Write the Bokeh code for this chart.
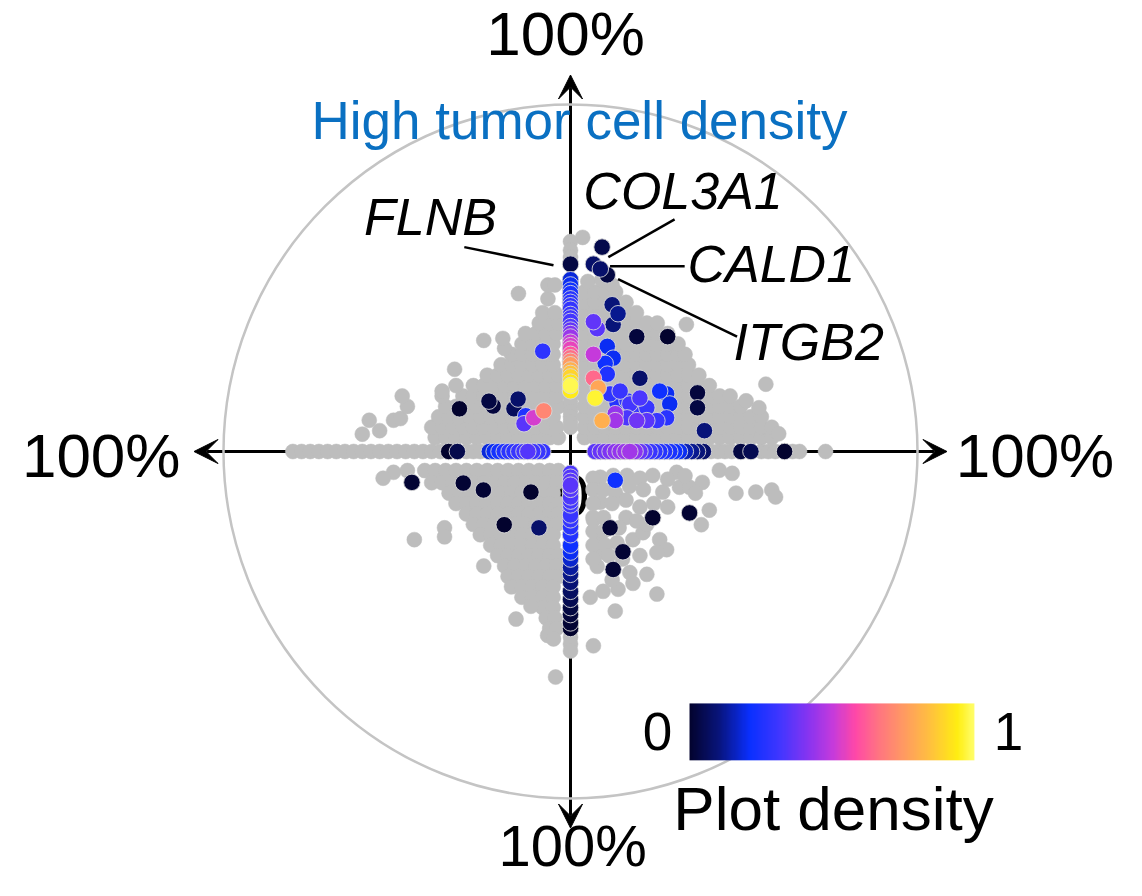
import numpy as np
from bokeh.plotting import figure
from bokeh.models import Arrow, VeeHead, LinearColorMapper, ColumnDataSource
from bokeh.core.properties import value
from bokeh.embed import file_html
from bokeh.resources import INLINE

# ---------------- data (percent of full scale, circle = 100%) ----------------
# gray (non-significant) genes, quadrant clouds as rows: y -> list of x
ul_rows = {
    4: [-39, -36, -33, -30, -27, -24, -21, -18, -15, -12, -9, -6, -3.5],
    7: [-40, -37, -34, -31, -28, -25, -22, -19, -16, -13, -10, -7, -4],
    10: [-38, -35, -32, -29, -26, -23, -20, -17, -14, -11, -8, -5],
    13: [-36, -33, -30, -27, -24, -21, -18, -15, -12, -9, -6, -3.5],
    16: [-37, -31, -28, -25, -22, -19, -16, -13, -10, -7, -4],
    19: [-28, -25, -22, -19, -16, -13, -10, -7, -4],
    22: [-24, -21, -18, -15, -12, -9, -6, -3.5],
    25: [-20, -17, -14, -11, -8, -5],
    28: [-17, -14, -11, -8, -5],
    31: [-14, -11, -8, -5],
    34: [-13, -10, -7, -4],
    37: [-9, -6, -3.5],
    40: [-8, -4.5],
    44: [-6.5],
    48: [-6.5, -4.5],
}
ul_extra = [(-60, 5), (-55, 6), (-58, 9), (-51, 9), (-49, 9.5), (-47, 13), (-48.5, 16),
            (-33, 19), (-33.4, 23.7), (-19, 29.7), (-25, 32), (-19.5, 32.6), (-15, 45.5),
            (-37, 17.4)]
ur_rows = {
    4: [4, 7, 10, 13, 16, 19, 22, 25, 28, 31, 34, 37, 40, 43, 46, 49, 52, 55, 58],
    7: [4, 7, 10, 13, 16, 19, 22, 25, 28, 31, 34, 37, 40, 43, 46, 49, 52, 55, 58],
    10: [4, 7, 10, 13, 16, 19, 22, 25, 28, 31, 34, 37, 40, 43, 46, 49, 52, 55],
    13: [4, 7, 10, 13, 16, 19, 22, 25, 28, 31, 34, 37, 40, 43, 46, 49],
    16: [4, 7, 10, 13, 16, 19, 22, 25, 28, 31, 34, 37, 40, 43, 46],
    19: [4, 7, 10, 13, 16, 19, 22, 25, 28, 31, 34, 37, 40],
    22: [4, 7, 10, 13, 16, 19, 22, 25, 28, 31, 34, 37],
    25: [4, 7, 10, 13, 16, 19, 22, 25, 28, 31, 34],
    28: [4, 7, 10, 13, 16, 19, 22, 25, 28, 31, 33],
    31: [4, 7, 10, 13, 16, 19, 22, 25, 28, 31],
    34: [4, 7, 10, 13, 16, 19, 22, 25, 28],
    37: [4, 7, 10, 13, 16, 19, 22, 25],
    40: [4, 7, 10, 13, 16, 19],
    43: [4, 7, 10, 13, 16],
    46: [4, 7, 10, 13],
}
ur_extra = [(3.5, 61.7), (5, 49), (9, 49.5), (12, 48), (33.4, 36.6), (56.3, 19.4),
            (50.6, 14.6), (54.3, 12.6), (60, 5.1)]
ll_rows = {
    -5.5: [-47, -42, -39, -36, -33, -30, -27, -24, -21, -18, -15, -12, -9, -6, -3.5],
    -9: [-40, -37, -34, -31, -28, -25, -22, -19, -16, -13, -10, -7, -4],
    -12: [-35, -32, -29, -26, -23, -20, -17, -14, -11, -8, -5],
    -15: [-33, -30, -27, -24, -21, -18, -15, -12, -9, -6, -3.5],
    -18: [-30, -27, -24, -21, -18, -15, -12, -9, -6, -3.5],
    -21: [-28, -25, -22, -19, -16, -13, -10, -7, -4],
    -24: [-26, -23, -20, -17, -14, -11, -8, -5],
    -27: [-23, -20, -17, -14, -11, -8, -5],
    -30: [-21, -18, -15, -12, -9, -6, -3.5],
    -33: [-19, -16, -13, -10, -7, -4],
    -36: [-18, -15, -12, -9, -6, -3.5],
    -39: [-17, -14, -11, -8, -5],
    -42: [-14, -11, -8, -5],
    -45: [-8, -5],
    -48: [-7, -4.5],
    -51: [-6, -4],
}
ll_extra = [(-51, -6), (-54, -7.7), (-36.3, -22), (-36.3, -24.6), (-45, -25.4),
            (-25, -33), (-15.7, -48.3), (-11.4, -44.6), (-6.6, -53), (-4.9, -54), (-4.3, -65)]
lr_points = [(8.6, -7.4), (16.3, -6.9), (20, -7.7), (23.7, -6.9), (30.6, -6), (26.6, -11.7),
             (31.4, -10.3), (34.3, -10.3), (38, -8.9), (42.9, -5.4), (46.6, -6.3), (47.7, -12),
             (53.4, -11.7), (58, -11.1), (59.1, -13.1), (40, -16.9), (37.7, -21.1), (8.6, -14.6),
             (6.6, -19.7), (7.7, -25.4), (8.6, -29.1), (7.7, -33.1), (13.4, -26.3), (18, -25.4),
             (20.9, -23.4), (25.7, -25.4), (27.7, -28.3), (24.9, -29.1), (17.1, -34.9), (22, -35.4),
             (5.7, -42), (9.4, -40.3), (13.7, -39.7), (24.9, -41.1), (12.9, -46), (6.6, -56),
             (6.5, -7.7), (12.3, -6.9), (6.5, -11), (9.5, -11), (13, -12), (17, -10), (21, -11),
             (6.5, -15), (12, -15), (16, -14), (20, -16), (24, -15), (28, -16), (6.5, -19), (9.5, -19),
             (16, -19), (19, -20), (6.5, -23), (9.5, -23), (14, -22), (22, -21), (6.5, -27), (10, -27),
             (6.5, -31), (11, -30), (15, -31), (20, -30), (12, -37), (18, -38), (28, -8), (33, -7),
             (36, -12)]
axis_gray_left = [-80, -77.5, -75, -72.5, -70, -67.5, -65, -62.5, -60, -57.5, -55, -52.5, -50,
                  -47.5, -45, -42.5, -40, -37.5, -30, -28, -26]
axis_gray_right = [40.5, 42.5, 44.5, 46.5, 55, 57, 59, 64, 66, 73.5]
axis_gray_up = [60.5, 58, 56, 16, 14.5, 13, 11.5, 10, 8.5, 7]
axis_gray_down = [-53.5, -55.5, -57.5]

# coloured genes (plot density 0..1)
top_col_y = [54, 49.5, 48, 46.5, 45.5, 44, 43, 42, 41, 39.5, 38.5, 37.5, 36, 35, 34, 33, 31.5,
             30.5, 29.5, 28, 27, 26, 25, 23.5, 22.5, 21.5, 20, 19, 17.5]
top_col_d = [0.03, 0.18, 0.2, 0.22, 0.24, 0.26, 0.27, 0.28, 0.29, 0.3, 0.31, 0.32, 0.33, 0.36,
             0.4, 0.44, 0.5, 0.52, 0.55, 0.6, 0.65, 0.7, 0.75, 0.8, 0.84, 0.88, 0.92, 0.98, 0.93]
bot_col_y = [-6.3, -7.4, -8.6, -9.7, -10.9, -12, -13.1, -14.3, -15.4, -17, -18.3, -19.7, -21.7,
             -24, -27, -29, -31, -33.4, -35.4, -37.7, -40.3, -42.6, -45, -47, -49.4, -51]
bot_col_d = [0.33, 0.34, 0.35, 0.35, 0.34, 0.33, 0.33, 0.32, 0.31, 0.3, 0.3, 0.29, 0.27, 0.26,
             0.22, 0.2, 0.17, 0.13, 0.11, 0.09, 0.07, 0.05, 0.03, 0.02, 0.01, 0.0]
left_row_x = [-35.1, -32.6, -23.4, -22, -20.6, -19.1, -17.7, -16.3, -14.9, -13.4, -12.3, -10.9, -9.4, -8]
left_row_d = [0.0, 0.04, 0.18, 0.2, 0.23, 0.25, 0.27, 0.28, 0.3, 0.32, 0.34, 0.31, 0.3, 0.29]
right_row_x = [7.1, 8.6, 10, 11.4, 12.9, 14.3, 15.7, 17.1, 18.6, 20, 21.4, 22.9, 24.3, 25.7, 27.1,
               28.6, 30, 31.4, 33.1, 34.9, 36.6, 38.3, 49.1, 52, 61.7]
right_row_d = [0.35, 0.37, 0.38, 0.4, 0.42, 0.43, 0.44, 0.45, 0.42, 0.37, 0.33, 0.3, 0.28, 0.26,
               0.25, 0.24, 0.22, 0.2, 0.15, 0.12, 0.1, 0.08, 0.03, 0.05, 0.0]
ur_colored = [(9.1, 58.9, 0.04), (6.6, 54, 0.08), (8.6, 52.6, 0.08), (10.6, 50.9, 0.03),
              (12, 42.3, 0.1), (13.7, 39.7, 0.12), (12.3, 36.6, 0.1), (6.6, 37.4, 0.36),
              (7.7, 35.4, 0.35), (19.1, 33.1, 0.02), (28, 33.1, 0.0), (10.6, 30.3, 0.2),
              (12.3, 26.9, 0.2), (10, 25.4, 0.22), (6.6, 28, 0.5), (10.6, 22.3, 0.25),
              (6.6, 21.1, 0.64), (8, 18.3, 0.78), (7.1, 15.4, 0.96), (9.1, 8.9, 0.8),
              (12.9, 8.9, 0.45), (20, 21.1, 0.08), (11.4, 16.6, 0.28), (14.3, 17.4, 0.3),
              (13.4, 14, 0.26), (17.1, 13.7, 0.32), (16.3, 14.6, 0.28), (20, 15.4, 0.33),
              (19.1, 12.6, 0.3), (22, 12.6, 0.3), (25.7, 17.4, 0.22), (27.7, 16.6, 0.2),
              (28.6, 13.7, 0.2), (19.1, 8.9, 0.38), (22, 8.9, 0.35), (24.9, 8.9, 0.3),
              (27.7, 9.7, 0.27), (16.3, 9.7, 0.33), (12.9, 10.9, 0.43), (36.6, 16.9, 0.02),
              (36.6, 12.6, 0.03), (38.6, 6, 0.1)]
ul_colored = [(-8, 28.9, 0.28), (-32, 12.3, 0.0), (-22.3, 13.1, 0.02), (-23.5, 14.5, 0.03),
              (-15.1, 15.1, 0.08), (-16.3, 12.3, 0.06), (-12.9, 10.3, 0.25), (-13.4, 8, 0.35),
              (-10.6, 9.7, 0.52), (-7.7, 11.7, 0.7)]
ll_colored = [(-45.7, -8.9, 0.01), (-30.9, -9.1, 0.01), (-25.1, -11.1, 0.01), (-11.4, -11.7, 0.0),
              (-19.1, -21.1, 0.0), (-9.1, -22, 0.08)]
lr_colored = [(12.9, -8.3, 0.22), (11.4, -22, 0.01), (23.7, -19.1, 0.0), (15.1, -28.9, 0.01),
              (12.3, -34, 0.01), (34.3, -17.7, 0.01)]

gene_labels = ["COL3A1", "FLNB", "CALD1", "ITGB2"]
gene_label_x = [3.7, -59.5, 33.7, 47]
gene_label_y = [75.1, 67.6, 54.1, 31.6]
leader_x0 = [30, -30.6, 32.9, 48]
leader_y0 = [66.9, 58.9, 53.4, 33.1]
leader_x1 = [10.9, -4.9, 11.4, 13.7]
leader_y1 = [56, 53.7, 53.4, 49.7]

# ---------------- assemble ----------------
gx, gy = [], []
for rows in (ul_rows, ur_rows, ll_rows):
    for yy, xs in rows.items():
        gx += xs
        gy += [yy] * len(xs)
for pts in (ul_extra, ur_extra, ll_extra, lr_points):
    gx += [p_[0] for p_ in pts]
    gy += [p_[1] for p_ in pts]
gx += axis_gray_left + axis_gray_right + [0] * (len(axis_gray_up) + len(axis_gray_down))
gy += [0] * (len(axis_gray_left) + len(axis_gray_right)) + axis_gray_up + axis_gray_down

cx = [0] * len(top_col_y) + [0] * len(bot_col_y) + left_row_x + right_row_x
cy = top_col_y + bot_col_y + [0] * (len(left_row_x) + len(right_row_x))
cd = top_col_d + bot_col_d + left_row_d + right_row_d
for pts in (ur_colored, ul_colored, ll_colored, lr_colored):
    cx += [t[0] for t in pts]
    cy += [t[1] for t in pts]
    cd += [t[2] for t in pts]
order = np.argsort(np.array(cd), kind="stable")
cx = [cx[i] for i in order]
cy = [cy[i] for i in order]
cd = [cd[i] for i in order]

# colour map
anchors = [(0.0, "#03032E"), (0.10, "#08147A"), (0.21, "#0A30FF"), (0.32, "#4436FF"),
           (0.42, "#8B34F0"), (0.50, "#C43ADC"), (0.58, "#FF48A8"), (0.66, "#FF7482"),
           (0.75, "#FF9A62"), (0.84, "#FFBF40"), (0.94, "#FFEE12"), (1.0, "#FFFF70")]
def hx(h):
    return np.array([int(h[i:i + 2], 16) for i in (1, 3, 5)], float)
palette = []
for t in np.linspace(0, 1, 256):
    for (p0, c0), (p1, c1) in zip(anchors[:-1], anchors[1:]):
        if p0 <= t <= p1:
            f = (t - p0) / (p1 - p0)
            c = hx(c0) * (1 - f) + hx(c1) * f
            palette.append("#%02x%02x%02x" % tuple(int(round(v)) for v in c))
            break
mapper = LinearColorMapper(palette=palette, low=0, high=1)

# ---------------- figure ----------------
S = 3.47
W, H = 1126, 880
p = figure(width=W, height=H, x_range=((0 - 570) / S, (W - 570) / S),
           y_range=((451 - H) / S, 451 / S), output_backend="svg",
           toolbar_location=None, x_axis_type=None, y_axis_type=None, min_border=0)
p.grid.visible = False
p.outline_line_color = None
p.background_fill_color = "white"

FONT = value("Liberation Sans")

p.circle(x=[0], y=[0], radius=100, fill_color=None, line_color="#C4C4C4", line_width=2.5)
for (xe, ye) in [(0, 108.5), (0, -108.5), (108.5, 0), (-108.5, 0)]:
    p.add_layout(Arrow(end=VeeHead(size=24, fill_color="black", line_color="black", line_width=1),
                       x_start=0, y_start=0, x_end=xe, y_end=ye,
                       line_width=3, line_color="black", level="underlay"))

# origin label underneath points
p.text(x=[0.6], y=[-12.8], text=["0"], text_font=FONT, text_font_size="60px",
       text_align="center", text_baseline="alphabetic", text_color="black")

p.scatter(x=gx, y=gy, size=15, fill_color="#BDBDBD", line_color="#BDBDBD", line_width=0.5)
src = ColumnDataSource(dict(x=cx, y=cy, d=cd))
p.scatter(x="x", y="y", source=src, size=16.5,
          fill_color={"field": "d", "transform": mapper},
          line_color="#D8D8D8", line_width=1, line_alpha=0.9)

# annotations
p.segment(x0=leader_x0, y0=leader_y0, x1=leader_x1, y1=leader_y1, line_color="black", line_width=2.5)
p.text(x=gene_label_x, y=gene_label_y, text=gene_labels, text_font=FONT, text_font_size="52px",
       text_font_style="italic", text_align="left", text_baseline="alphabetic", text_color="black")

p.text(x=[2.6], y=[95.4], text=["High tumor cell density"], text_font=FONT, text_font_size="53px",
       text_align="center", text_baseline="alphabetic", text_color="#0A70C2")

p.text(x=[-1.4], y=[120.5], text=["100%"], text_font=FONT, text_font_size="62px",
       text_align="center", text_baseline="alphabetic", text_color="black")
p.text(x=[0.6], y=[-113.5], text=["100%"], text_font=FONT, text_font_size="58px",
       text_align="center", text_baseline="alphabetic", text_color="black")
p.text(x=[-112.4], y=[-1.1], text=["100%"], text_font=FONT, text_font_size="62px",
       text_align="right", text_baseline="alphabetic", text_color="black")
p.text(x=[111], y=[-1.1], text=["100%"], text_font=FONT, text_font_size="62px",
       text_align="left", text_baseline="alphabetic", text_color="black")

# colour bar
p.image(image=[np.linspace(0, 1, 256).reshape(1, -1)], x=34.3, y=-89, dw=82.1, dh=16.4,
        color_mapper=mapper)
p.text(x=[25.1, 126.2], y=[-80.7, -80.7], text=["0", "1"], text_font=FONT, text_font_size="53px",
       text_align="center", text_baseline="alphabetic", text_color="black")
p.text(x=[75.8], y=[-102.8], text=["Plot density"], text_font=FONT, text_font_size="62px",
       text_align="center", text_baseline="alphabetic", text_color="black")

open("out.html", "w").write(file_html(p, INLINE))
